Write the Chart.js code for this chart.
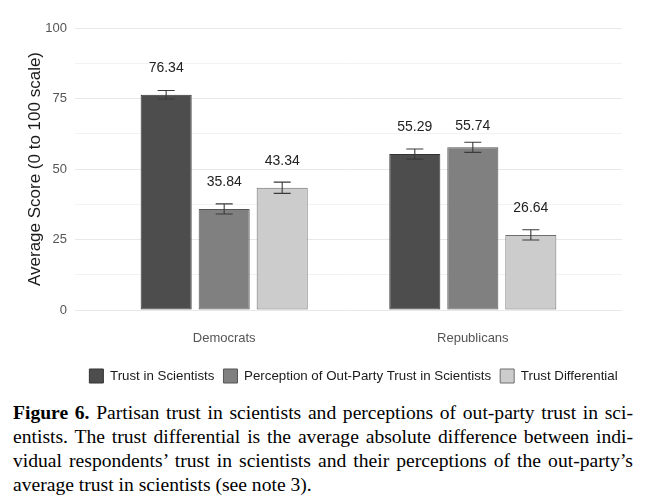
<!DOCTYPE html>
<html>
<head>
<meta charset="utf-8">
<script src="https://cdn.jsdelivr.net/npm/chart.js@4.4.1/dist/chart.umd.min.js"></script>
<style>
  html, body { margin: 0; padding: 0; background: #fff; }
  #wrap { position: relative; width: 648px; height: 500px; overflow: hidden; }
  #chartBox { position: absolute; left: 0; top: 0; width: 648px; height: 400px; }
  .cap {
    position: absolute; left: 13px; top: 401px; width: 620px;
    font-family: "Liberation Serif", "Times New Roman", serif;
    font-size: 19.6px; line-height: 24px; color: #000;
  }
  .ln { text-align: justify; text-align-last: justify; }
  .ln.last { text-align: left; text-align-last: left; }
</style>
</head>
<body>
<div id="wrap">
  <div id="chartBox"><canvas id="myChart"></canvas></div>
  <div class="cap">
    <div class="ln"><b>Figure 6.</b> Partisan trust in scientists and perceptions of out-party trust in sci-</div>
    <div class="ln">entists. The trust differential is the average absolute difference between indi-</div>
    <div class="ln">vidual respondents’ trust in scientists and their perceptions of the out-party’s</div>
    <div class="ln last">average trust in scientists (see note 3).</div>
  </div>
</div>
<script>
// groups on the x axis (placed at 1 and 2 on a linear scale, like ggplot's discrete axis)
const groups = ["Democrats", "Republicans"];
const groupPos = [1, 2];

const seriesNames = [
  "Trust in Scientists",
  "Perception of Out-Party Trust in Scientists",
  "Trust Differential",
];

// bar heights
const trustValues = [76.34, 55.29];
const perceptionValues = [35.84, 57.7];
const differentialValues = [43.34, 26.64];

// printed labels above the bars
const trustLabels = ["76.34", "55.29"];
const perceptionLabels = ["35.84", "55.74"];
const differentialLabels = ["43.34", "26.64"];

// half-width of the error bars
const trustErr = [1.5, 1.8];
const perceptionErr = [1.8, 1.8];
const differentialErr = [2.0, 1.8];

const yTicks = [0, 25, 50, 75, 100];

const fillColors = ["#4d4d4d", "#808080", "#cccccc"];
const edgeColors = ["#333333", "#555555", "#6e6e6e"];

const FONT = "'Liberation Sans', Arial, sans-serif";

const toPoints = (vals) => vals.map((v, i) => ({ x: groupPos[i], y: v }));

const allValues = [trustValues, perceptionValues, differentialValues];
const allLabels = [trustLabels, perceptionLabels, differentialLabels];
const allErr = [trustErr, perceptionErr, differentialErr];

// error bars + value labels, drawn with the y scale
const extrasPlugin = {
  id: "extras",
  afterLayout(chart) {
    // ggplot centres the legend under the panel, not the whole figure
    const lg = chart.legend;
    const shift = (chart.chartArea.left + chart.chartArea.right) / 2 - (lg.left + lg.right) / 2 + 5;
    lg.left += shift;
    lg.right += shift;
  },
  afterDatasetsDraw(chart) {
    const ctx = chart.ctx;
    const y = chart.scales.y;
    chart.data.datasets.forEach((ds, di) => {
      const meta = chart.getDatasetMeta(di);
      meta.data.forEach((bar, i) => {
        const v = allValues[di][i];
        const e = allErr[di][i];
        const hw = bar.width / 6;
        const top = y.getPixelForValue(v + e);
        const bot = y.getPixelForValue(v - e);
        ctx.save();
        ctx.strokeStyle = "#3a3a3a";
        ctx.lineWidth = 1.1;
        ctx.beginPath();
        ctx.moveTo(bar.x, top); ctx.lineTo(bar.x, bot);
        ctx.moveTo(bar.x - hw, top); ctx.lineTo(bar.x + hw, top);
        ctx.moveTo(bar.x - hw, bot); ctx.lineTo(bar.x + hw, bot);
        ctx.stroke();

        ctx.fillStyle = "#222";
        ctx.font = "14px " + FONT;
        ctx.textAlign = "center";
        ctx.textBaseline = "middle";
        const lbl = allLabels[di][i];
        ctx.fillText(lbl, bar.x, y.getPixelForValue(Number(lbl) + 9.4));
        ctx.restore();
      });
    });
  },
};

const ctx = document.getElementById("myChart").getContext("2d");
new Chart(ctx, {
  type: "bar",
  data: {
    datasets: seriesNames.map((name, k) => ({
      label: name,
      data: toPoints(allValues[k]),
      backgroundColor: fillColors[k],
      borderColor: edgeColors[k],
      borderWidth: 1,
      borderSkipped: false,
      categoryPercentage: 0.7,
      barPercentage: 0.88,
    })),
  },
  options: {
    responsive: true,
    maintainAspectRatio: false,
    animation: false,
    layout: { padding: { top: 28, right: 26, left: 0, bottom: 7 } },
    plugins: {
      tooltip: { enabled: false },
      legend: {
        position: "bottom",
        labels: {
          boxWidth: 14,
          boxHeight: 14,
          padding: 9,
          color: "#1a1a1a",
          font: { family: FONT, size: 13.3 },
        },
      },
    },
    scales: {
      x: {
        type: "linear",
        offset: false,
        min: 0.4,
        max: 2.6,
        grid: { display: false, drawTicks: false },
        border: { display: false },
        afterBuildTicks(scale) {
          scale.ticks = groupPos.map((v) => ({ value: v }));
        },
        afterFit(scale) { scale.height = 50; },
        ticks: {
          padding: 21,
          color: "#555",
          font: { family: FONT, size: 13 },
          callback: (v) => groups[groupPos.indexOf(v)] || "",
        },
      },
      y: {
        min: 0,
        max: 100,
        afterBuildTicks(scale) {
          // majors every 25, minor gridlines between
          const t = [];
          yTicks.forEach((v, i) => {
            t.push({ value: v });
            if (i < yTicks.length - 1) t.push({ value: (v + yTicks[i + 1]) / 2 });
          });
          scale.ticks = t;
        },
        afterFit(scale) { scale.width = 75; },
        grid: {
          drawTicks: false,
          lineWidth: 1,
          color: (c) => (yTicks.includes(c.tick.value) ? "#e8e8e8" : "#f2f2f2"),
        },
        border: { display: false },
        ticks: {
          padding: 8,
          color: "#555",
          font: { family: FONT, size: 13 },
          callback: (v) => (yTicks.includes(v) ? v : ""),
        },
        title: {
          display: true,
          text: "Average Score (0 to 100 scale)",
          color: "#1a1a1a",
          font: { family: FONT, size: 17 },
          padding: { top: 25, bottom: 0 },
        },
      },
    },
  },
  plugins: [extrasPlugin],
});
</script>
</body>
</html>
